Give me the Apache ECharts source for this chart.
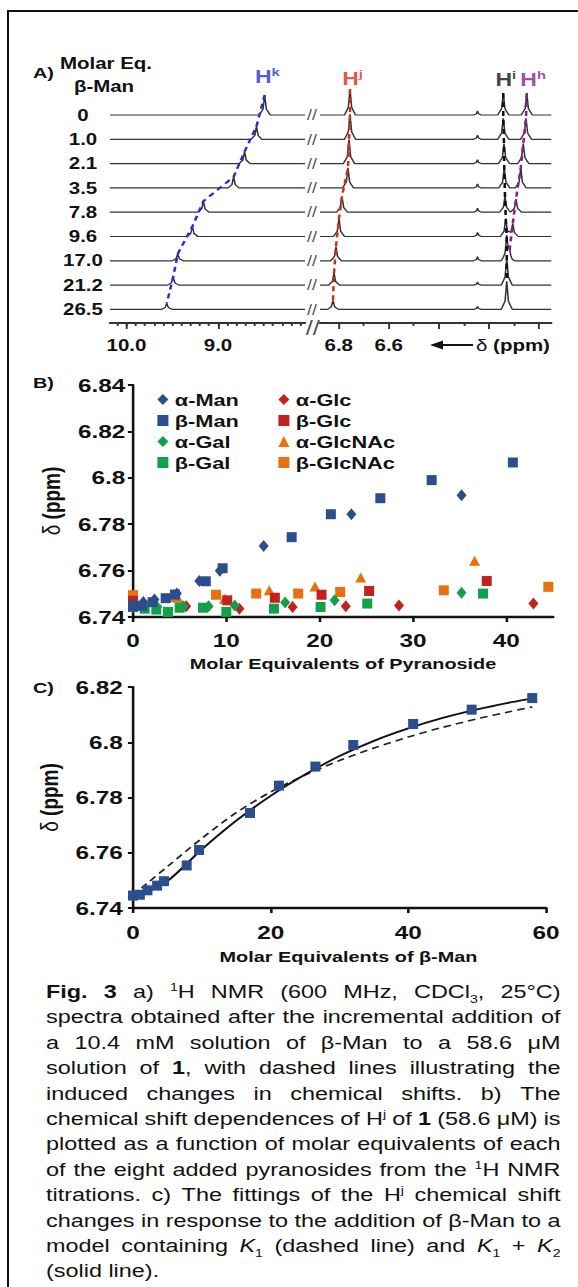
<!DOCTYPE html>
<html>
<head>
<meta charset="utf-8">
<script src="https://cdn.jsdelivr.net/npm/echarts@6/dist/echarts.min.js"></script>
<style>
  html, body { margin: 0; padding: 0; background: #fff; }
  body { width: 578px; height: 1287px; position: relative; overflow: hidden; font-family: "Liberation Sans", Arial, sans-serif; color: #111; }
  #frame { position: absolute; left: 7px; top: 10px; width: 600px; height: 1300px; border-left: 2px solid #111; border-top: 2px solid #111; z-index: 5; pointer-events: none; }
  /* the source figure is stretched sideways, so chart and caption are scaled on x */
  #chart { position: absolute; left: 0; top: 0; width: 451.5625px; height: 975px; transform: scaleX(1.28); transform-origin: 0 0; }
  #caption { position: absolute; left: 46px; top: 979px; width: 402px; transform: scaleX(1.28); transform-origin: 0 0; font-size: 18.3px; }
  .ln { display: flex; justify-content: space-between; height: 25.4px; line-height: 25.4px; white-space: nowrap; }
  .ln.last { justify-content: flex-start; }
  .ln sup, .ln sub { font-size: 11px; line-height: 0; }
</style>
</head>
<body>
<div id="frame"></div>
<div id="chart"></div>
<div id="caption"></div>
<script>
const SX = 1.28;
const sx = v => v / SX;
const FONT = '"Liberation Sans", Arial, sans-serif';

// ---- Panel A: 1H NMR stack (peak position in ppm, peak height in px) ----
const molarEq = ['0', '1.0', '2.1', '3.5', '7.8', '9.6', '17.0', '21.2', '26.5'];
const hkShift = [8.49, 8.58, 8.71, 8.83, 9.16, 9.28, 9.44, 9.49, 9.56];
const hkHeight = [20, 13, 12, 11, 11, 10, 7, 8, 6];
const hjShift = [6.755, 6.755, 6.759, 6.763, 6.787, 6.799, 6.811, 6.819, 6.823];
const hjHeight = [26, 25, 24, 20, 16, 18, 14, 12, 9];
const hiShift = [6.142, 6.142, 6.139, 6.138, 6.135, 6.132, 6.128, 6.128, 6.128];
const hiHeight = [22, 21, 20, 20, 16, 18, 24, 27, 28];
const hhShift = [6.048, 6.051, 6.062, 6.072, 6.091, 6.104, 6.118, null, null];
const hhHeight = [22, 21, 20, 20, 13, 13, 8, null, null];
const minorShift = 6.245;
const minorHeight = [4, 4, 4, 4, 4, 4, 4, 3, 3];

// ---- Panel B: Hj shift vs molar equivalents ----
const alphaManEq = [0, 1.1, 2.3, 4.7, 7.1, 9.3, 14.0, 23.4, 35.2];
const alphaManShift = [6.7455, 6.7465, 6.7475, 6.7501, 6.7555, 6.7599, 6.7706, 6.7843, 6.7925];
const alphaGlcEq = [0, 5.7, 11.4, 17.1, 22.8, 28.5, 42.9];
const alphaGlcShift = [6.7452, 6.7446, 6.7436, 6.7443, 6.7446, 6.7450, 6.7458];
const betaGlcEq = [0, 10.1, 15.2, 20.2, 25.3, 37.9];
const betaGlcShift = [6.7470, 6.7472, 6.7483, 6.7496, 6.7512, 6.7555];
const alphaGalEq = [0, 2.6, 5.4, 8.1, 10.9, 16.3, 21.6, 35.2];
const alphaGalShift = [6.7443, 6.7443, 6.7446, 6.7446, 6.7450, 6.7462, 6.7472, 6.7505];
const betaGalEq = [0, 1.25, 2.5, 3.75, 5.0, 7.5, 10.0, 15.1, 20.1, 25.1, 37.5];
const betaGalShift = [6.7443, 6.7436, 6.7432, 6.7422, 6.7440, 6.7440, 6.7422, 6.7436, 6.7443, 6.7458, 6.7501];
const alphaGlcNAcEq = [4.8, 9.8, 14.6, 19.5, 24.4, 36.6];
const alphaGlcNAcShift = [6.7483, 6.7479, 6.7515, 6.7532, 6.7570, 6.7642];
const betaGlcNAcEq = [0, 4.5, 8.9, 13.2, 17.7, 22.2, 33.3, 44.5];
const betaGlcNAcShift = [6.7494, 6.7486, 6.7496, 6.7501, 6.7501, 6.7508, 6.7515, 6.7530];

// ---- Panel B + C: beta-Man titration and fits ----
const betaManEq = [0, 1.0, 2.1, 3.5, 4.5, 7.8, 9.6, 17.0, 21.2, 26.5, 32.0, 40.7, 49.2, 58.0];
const betaManShift = [6.7445, 6.7448, 6.7464, 6.7481, 6.7497, 6.7554, 6.7610, 6.7744, 6.7843, 6.7912, 6.7990, 6.8066, 6.8118, 6.8160];
const fitEq = [0, 2, 5, 10, 15, 20, 25, 30, 35, 40, 45, 50, 55, 58];
const fitK1K2 = [6.7445, 6.7458, 6.7497, 6.7612, 6.7716, 6.7806, 6.7883, 6.7950, 6.8005, 6.8050, 6.8088, 6.8119, 6.8145, 6.8158];
const fitK1 = [6.7445, 6.7488, 6.7550, 6.7652, 6.7745, 6.7820, 6.7881, 6.7934, 6.7979, 6.8019, 6.8054, 6.8085, 6.8112, 6.8128];

const captionLines = [
  '<b>Fig.</b> <b>3</b> a) <sup>1</sup>H NMR (600 MHz, CDCl<sub>3</sub>, 25°C)',
  'spectra obtained after the incremental addition of',
  'a 10.4 mM solution of β-Man to a 58.6 μM',
  'solution of <b>1</b>, with dashed lines illustrating the',
  'induced changes in chemical shifts. b) The',
  'chemical shift dependences of H<sup>j</sup> of <b>1</b> (58.6 μM) is',
  'plotted as a function of molar equivalents of each',
  'of the eight added pyranosides from the <sup>1</sup>H NMR',
  'titrations. c) The fittings of the H<sup>j</sup> chemical shift',
  'changes in response to the addition of β-Man to a',
  'model containing <i>K</i><sub>1</sub> (dashed line) and <i>K</i><sub>1</sub> + <i>K</i><sub>2</sub>',
  '(solid line).'
];

const cap = document.getElementById('caption');
captionLines.forEach((line, i) => {
  const div = document.createElement('div');
  const last = i === captionLines.length - 1;
  div.className = last ? 'ln last' : 'ln';
  if (last) div.innerHTML = line;
  else div.innerHTML = line.split(' ').map(w => '<span>' + w + '</span>').join('');
  cap.appendChild(div);
});

// ---- layout ----
const LEFT_MIN = 8.05, LEFT_MAX = 10.18;
const RIGHT_MIN = 5.95, RIGHT_MAX = 6.875;
const rowBase = molarEq.map((_, i) => 208 - i * 24.3);

// simple peak outline: narrow top, wider foot
const PDX = [-1, -0.3, 0, 0.3, 1];
const PDY = [0, 0.3, 1, 0.3, 0];
function bump(p, x) {
  const t = (x - p.at) / p.hw;
  if (t <= -1 || t >= 1) return 0;
  for (let k = 0; k < 4; k++) {
    if (t >= PDX[k] && t <= PDX[k + 1]) {
      const f = (t - PDX[k]) / (PDX[k + 1] - PDX[k]);
      return p.h * (PDY[k] + f * (PDY[k + 1] - PDY[k]));
    }
  }
  return 0;
}
function trace(peaks, lo, hi, base) {
  const xs = [lo, hi];
  peaks.forEach(p => PDX.forEach(d => xs.push(p.at + d * p.hw)));
  xs.sort((a, b) => b - a);
  return xs.filter(x => x >= lo && x <= hi)
    .map(x => [x, base + peaks.reduce((s, p) => s + bump(p, x), 0)]);
}

const series = [];
molarEq.forEach((eq, i) => {
  const base = rowBase[i];
  const left = [{ at: hkShift[i], h: hkHeight[i], hw: 0.06 }];
  const right = [
    { at: hjShift[i], h: hjHeight[i], hw: 0.022 },
    { at: hiShift[i], h: hiHeight[i], hw: 0.022 },
    { at: minorShift, h: minorHeight[i], hw: 0.015 }
  ];
  if (hhShift[i] != null) right.push({ at: hhShift[i], h: hhHeight[i], hw: 0.022 });
  [[left, LEFT_MIN, LEFT_MAX, 0, 0], [right, RIGHT_MIN, RIGHT_MAX, 2, 1]].forEach(([pk, lo, hi, xi, yi]) => {
    series.push({
      type: 'line', xAxisIndex: xi, yAxisIndex: yi, symbol: 'none', silent: true, z: 2,
      lineStyle: { color: '#333', width: 1.2 },
      data: trace(pk, lo, hi, base)
    });
  });
});

function apexLine(shift, height, color, xi, yi) {
  const pts = [];
  shift.forEach((v, i) => { if (v != null) pts.push([v, rowBase[i] + height[i]]); });
  return {
    type: 'line', xAxisIndex: xi, yAxisIndex: yi, symbol: 'none', silent: true, z: 3,
    lineStyle: { color, width: 2, type: [5, 4] }, data: pts
  };
}
series.push(apexLine(hkShift, hkHeight, '#2230d8', 0, 0));
series.push(apexLine(hjShift, hjHeight, '#d3301c', 2, 1));
series.push(apexLine(hiShift, hiHeight, '#111', 2, 1));
series.push(apexLine(hhShift, hhHeight, '#8e1c90', 2, 1));

function hLabel(at, y, sup, color, dist, dx) {
  return {
    value: [at, y],
    label: {
      show: true, position: 'top', distance: dist, offset: [dx || 0, 0],
      formatter: '{h|H}{s|' + sup + '}',
      rich: {
        h: { fontSize: 18, fontWeight: 'bold', color, lineHeight: 20, fontFamily: FONT },
        s: { fontSize: 11.5, fontWeight: 'bold', color, lineHeight: 11, verticalAlign: 'top', fontFamily: FONT }
      }
    }
  };
}
series.push({
  type: 'scatter', xAxisIndex: 0, yAxisIndex: 0, symbolSize: 1, silent: true, z: 4,
  itemStyle: { color: 'transparent' },
  data: [hLabel(hkShift[0], rowBase[0] + hkHeight[0], 'k', '#2230d8', 8, 2)]
});
series.push({
  type: 'scatter', xAxisIndex: 2, yAxisIndex: 1, symbolSize: 1, silent: true, z: 4,
  itemStyle: { color: 'transparent' },
  data: [
    hLabel(hjShift[0], rowBase[0] + hjHeight[0], 'j', '#d3301c', 0, 2),
    hLabel(hiShift[0], rowBase[0] + hiHeight[0], 'i', '#111', 3, 2),
    hLabel(hhShift[0], rowBase[0] + hhHeight[0], 'h', '#8e1c90', 3, 5)
  ]
});
// axis-break marks
series.push({
  type: 'scatter', xAxisIndex: 0, yAxisIndex: 0, symbolSize: 1, silent: true, z: 4,
  itemStyle: { color: 'transparent' },
  label: { show: true, position: 'right', distance: 1, formatter: '//', fontSize: 14, lineHeight: 12, color: '#222', fontFamily: FONT },
  data: rowBase.map(b => [LEFT_MIN, b]).concat([{ value: [LEFT_MIN, 0], label: { fontSize: 20, lineHeight: 16, distance: 0, offset: [0, 5] } }])
});

// ---- panel B and C ----
const BLUE = '#2b4e8f', RED = '#c3211d', GREEN = '#13a04a', ORANGE = '#e8700f';
const zip = (xs, ys) => xs.map((x, i) => [x, ys[i]]);
const SQ = [sx(10), 10], DIA = [sx(10), 12], TRI = [sx(11), 10];
function pts(name, sym, size, color, xs, ys) {
  return { name, type: 'scatter', xAxisIndex: 4, yAxisIndex: 2, symbol: sym, symbolSize: size,
    itemStyle: { color, opacity: 1 }, data: zip(xs, ys), z: 3 };
}
const bMan = zip(betaManEq, betaManShift).filter(p => p[0] <= 45);
series.push(
  pts('β-GlcNAc', 'rect', SQ, ORANGE, betaGlcNAcEq, betaGlcNAcShift),
  pts('α-GlcNAc', 'triangle', TRI, ORANGE, alphaGlcNAcEq, alphaGlcNAcShift),
  pts('β-Glc', 'rect', SQ, RED, betaGlcEq, betaGlcShift),
  pts('α-Glc', 'diamond', DIA, RED, alphaGlcEq, alphaGlcShift),
  pts('β-Gal', 'rect', SQ, GREEN, betaGalEq, betaGalShift),
  pts('α-Gal', 'diamond', DIA, GREEN, alphaGalEq, alphaGalShift),
  pts('α-Man', 'diamond', DIA, BLUE, alphaManEq, alphaManShift),
  pts('β-Man', 'rect', SQ, BLUE, bMan.map(p => p[0]), bMan.map(p => p[1]))
);
series.push(
  { name: 'K1 fit', type: 'line', xAxisIndex: 5, yAxisIndex: 3, symbol: 'none', smooth: 0.3, z: 2,
    lineStyle: { color: '#222', width: 1.6, type: [6, 4] }, data: zip(fitEq, fitK1) },
  { name: 'K1+K2 fit', type: 'line', xAxisIndex: 5, yAxisIndex: 3, symbol: 'none', smooth: 0.3, z: 2,
    lineStyle: { color: '#111', width: 1.8 }, data: zip(fitEq, fitK1K2) },
  { name: 'β-Man titration', type: 'scatter', xAxisIndex: 5, yAxisIndex: 3, symbol: 'rect', symbolSize: SQ,
    itemStyle: { color: BLUE, opacity: 1 }, data: zip(betaManEq, betaManShift), z: 3 }
);

const fmt = v => String(Math.round(v * 100) / 100);
const axisDark = { lineStyle: { color: '#111', width: 2.4 } };
const tickFont = { fontFamily: FONT, fontWeight: 'bold', color: '#111' };

const minorLeft = [], minorRight = [6.1, 6.3, 6.5, 6.7];
for (let k = 81; k <= 101; k++) minorLeft.push(k / 10);

function nmrAxis(grid, min, max, ticks, labels, len, line) {
  return {
    type: 'value', gridIndex: grid, position: 'bottom', min, max, inverse: true,
    axisLine: { show: line, lineStyle: { color: '#333', width: 2 } },
    axisTick: { show: true, customValues: ticks, length: len, lineStyle: { color: '#333', width: 1.5 } },
    axisLabel: labels
      ? { show: true, customValues: labels, formatter: v => v.toFixed(1), margin: 14, fontSize: 16, ...tickFont }
      : { show: false },
    splitLine: { show: false }
  };
}

const option = {
  animation: false,
  backgroundColor: 'transparent',
  textStyle: { fontFamily: FONT, color: '#111' },
  grid: [
    { left: sx(110), top: 80, width: sx(305 - 110), height: 243 },
    { left: sx(320), top: 80, width: sx(551.25 - 320), height: 243 },
    { left: sx(133), top: 385, width: sx(553 - 133), height: 232 },
    { left: sx(133), top: 687, width: sx(546 - 133), height: 221 }
  ],
  xAxis: [
    nmrAxis(0, LEFT_MIN, LEFT_MAX, [9, 10], [9, 10], 6, true),
    nmrAxis(0, LEFT_MIN, LEFT_MAX, minorLeft, null, 3, false),
    nmrAxis(1, RIGHT_MIN, RIGHT_MAX, [6.0, 6.2, 6.4, 6.6, 6.8], [6.6, 6.8], 6, true),
    nmrAxis(1, RIGHT_MIN, RIGHT_MAX, minorRight, null, 3, false),
    {
      type: 'value', gridIndex: 2, min: 0, max: 45,
      axisLine: axisDark,
      axisTick: { customValues: [0, 10, 20, 30, 40], length: 5, lineStyle: { color: '#111', width: 2 } },
      axisLabel: { customValues: [0, 10, 20, 30, 40], margin: 14, fontSize: 19, ...tickFont },
      splitLine: { show: false },
      name: 'Molar Equivalents of Pyranoside', nameLocation: 'middle', nameGap: 39,
      nameTextStyle: { fontSize: 15.5, fontWeight: 'bold', color: '#111' }
    },
    {
      type: 'value', gridIndex: 3, min: 0, max: 60, interval: 20,
      axisLine: axisDark,
      axisTick: { length: 5, lineStyle: { color: '#111', width: 2 } },
      axisLabel: { margin: 15, fontSize: 19, ...tickFont },
      splitLine: { show: false },
      name: 'Molar Equivalents of β-Man', nameLocation: 'middle', nameGap: 41,
      nameTextStyle: { fontSize: 15.5, fontWeight: 'bold', color: '#111', padding: [0, 0, 0, 14] }
    }
  ],
  yAxis: [
    {
      type: 'value', gridIndex: 0, min: 0, max: 243,
      axisLine: { show: false }, axisTick: { show: false }, splitLine: { show: false },
      axisLabel: {
        customValues: rowBase, align: 'center', margin: sx(27), fontSize: 16, ...tickFont,
        formatter: v => { const i = rowBase.findIndex(b => Math.abs(b - v) < 0.5); return i < 0 ? '' : molarEq[i]; }
      }
    },
    { type: 'value', gridIndex: 1, min: 0, max: 243, show: false },
    {
      type: 'value', gridIndex: 2, min: 6.74, max: 6.84, interval: 0.02,
      axisLine: { show: true, lineStyle: { color: '#111', width: 2 } },
      axisTick: { show: true, length: 4, lineStyle: { color: '#111', width: 2 } },
      axisLabel: { formatter: fmt, margin: 6, fontSize: 19, ...tickFont },
      splitLine: { show: false },
      name: '{d|δ} (ppm)', nameLocation: 'middle', nameGap: 50,
      nameTextStyle: { fontSize: 19, fontWeight: 'bold', color: '#111', rich: { d: { fontSize: 19, fontWeight: 'normal', color: '#111' } } }
    },
    {
      type: 'value', gridIndex: 3, min: 6.74, max: 6.82, interval: 0.02,
      axisLine: { show: true, lineStyle: { color: '#111', width: 2 } },
      axisTick: { show: true, length: 4, lineStyle: { color: '#111', width: 2 } },
      axisLabel: { formatter: fmt, margin: 8, fontSize: 19, ...tickFont },
      splitLine: { show: false },
      name: '{d|δ} (ppm)', nameLocation: 'middle', nameGap: 51,
      nameTextStyle: { fontSize: 19, fontWeight: 'bold', color: '#111', rich: { d: { fontSize: 19, fontWeight: 'normal', color: '#111' } } }
    }
  ],
  legend: [
    {
      orient: 'vertical', left: sx(151), top: 386, itemGap: 4, itemWidth: sx(11), itemHeight: 11,
      textStyle: { fontSize: 17, fontWeight: 'bold', color: '#111', lineHeight: 17 },
      data: [{ name: 'α-Man', icon: 'diamond' }, { name: 'β-Man', icon: 'rect' }, { name: 'α-Gal', icon: 'diamond' }, { name: 'β-Gal', icon: 'rect' }]
    },
    {
      orient: 'vertical', left: sx(272), top: 386, itemGap: 4, itemWidth: sx(11), itemHeight: 11,
      textStyle: { fontSize: 17, fontWeight: 'bold', color: '#111', lineHeight: 17 },
      data: [{ name: 'α-Glc', icon: 'diamond' }, { name: 'β-Glc', icon: 'rect' }, { name: 'α-GlcNAc', icon: 'triangle' }, { name: 'β-GlcNAc', icon: 'rect' }]
    }
  ],
  graphic: [
    { type: 'text', x: sx(33), y: 73, style: { text: 'A)', font: 'bold 15.5px ' + FONT, fill: '#111', verticalAlign: 'middle' } },
    { type: 'text', x: sx(106), y: 63, style: { text: 'Molar Eq.', font: 'bold 16px ' + FONT, fill: '#111', align: 'center', verticalAlign: 'middle' } },
    { type: 'text', x: sx(104), y: 86, style: { text: 'β-Man', font: 'bold 16px ' + FONT, fill: '#111', align: 'center', verticalAlign: 'middle' } },
    { type: 'text', x: sx(33), y: 383, style: { text: 'B)', font: 'bold 15.5px ' + FONT, fill: '#111', verticalAlign: 'middle' } },
    { type: 'text', x: sx(33), y: 688, style: { text: 'C)', font: 'bold 15.5px ' + FONT, fill: '#111', verticalAlign: 'middle' } },
    { type: 'line', shape: { x1: sx(438), y1: 345, x2: sx(473), y2: 345 }, style: { stroke: '#111', lineWidth: 2 } },
    { type: 'polygon', shape: { points: [[sx(430), 345], [sx(443), 340.5], [sx(443), 349.5]] }, style: { fill: '#111' } },
    { type: 'text', x: sx(476), y: 345, style: { text: '{d|δ} (ppm)', font: 'bold 16px ' + FONT, fill: '#111', verticalAlign: 'middle',
      rich: { d: { font: '16px ' + FONT, fill: '#111' } } } }
  ],
  series
};

const chart = echarts.init(document.getElementById('chart'), null, { renderer: 'svg' });
chart.setOption(option);
</script>
</body>
</html>
